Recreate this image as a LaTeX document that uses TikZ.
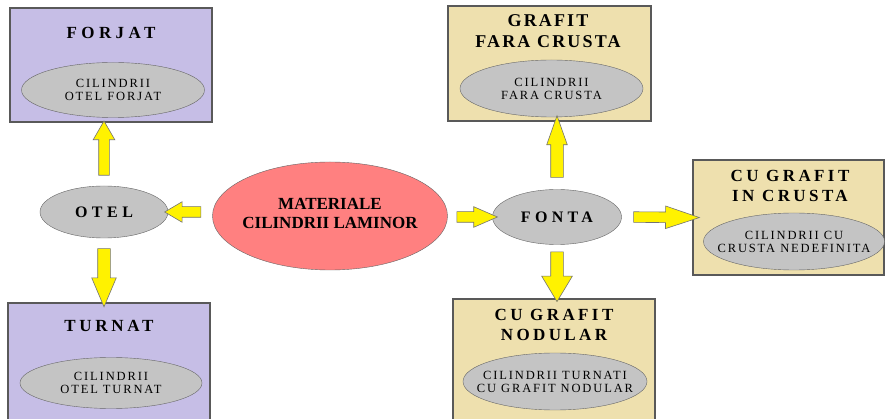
\documentclass[tikz,border=0pt]{standalone}
\usepackage{fontspec}
\setmainfont{Liberation Serif}
\usetikzlibrary{shapes.geometric,shapes.arrows,calc}
\definecolor{lila}{RGB}{198,190,230}
\definecolor{bej}{RGB}{238,224,174}
\definecolor{gri}{RGB}{196,196,196}
\definecolor{roz}{RGB}{255,128,128}
\newcommand\titlufont{\fontsize{17}{20}\selectfont\bfseries\addfontfeature{LetterSpace=20}}
\newcommand\elipsafont{\fontsize{12.5}{13}\selectfont\addfontfeature{LetterSpace=15}}
\begin{document}
\begin{tikzpicture}[x=1pt,y=-1pt,
    cutie/.style={rectangle,draw=black!65,line width=1.2pt,inner sep=0pt},
    elipsa/.style={ellipse,draw=black!60,fill=gri,inner sep=0pt},
    elipsatext/.style={align=center,font=\elipsafont,inner sep=0pt},
    titlu/.style={align=center,font=\titlufont},
    sageata/.style={single arrow,draw=black!55,fill=yellow,line width=0.6pt,
      text height=11pt,text depth=0pt,text width=0pt,inner sep=0pt,
      single arrow head extend=5pt,single arrow tip angle=55,single arrow head indent=0pt},
    spre/.style={to path={let \p1=(\tikztostart),\p2=(\tikztotarget),
      \n1={veclen(\x2-\x1,\y2-\y1)},\n2={atan2(\y2-\y1,\x2-\x1)} in
      node[sageata,#1,minimum height=\n1,rotate=\n2] at ($(\p1)!0.5!(\p2)$) {}}},
    spre/.default={}]
  \clip (0,0) rectangle (886,419);
  \fill[white] (0,0) rectangle (886,419);

  % otel
  \path (111,65) node[cutie,fill=lila,minimum width=202pt,minimum height=114pt] (forjat) {};
  \path (111,33) node[titlu,font=\titlufont\addfontfeature{LetterSpace=26}] (forjatT) {FORJAT};
  \path (113,90) node[elipsa,minimum width=183pt,minimum height=55pt,
    label={[elipsatext]center:CILINDRII\\OTEL FORJAT}] (forjatE) {};

  \path (109,366) node[cutie,fill=lila,minimum width=202pt,minimum height=126pt] (turnat) {};
  \path (109,326) node[titlu,font=\titlufont\addfontfeature{LetterSpace=22}] (turnatT) {TURNAT};
  \path (111,383) node[elipsa,minimum width=182pt,minimum height=51pt,
    label={[elipsatext]center:CILINDRII\\OTEL TURNAT}] (turnatE) {};

  \path (104,212) node[ellipse,draw=black!60,fill=gri,minimum width=128pt,minimum height=52pt,
    font=\fontsize{16}{19}\selectfont\bfseries\addfontfeature{LetterSpace=28}] (otel) {OTEL};

  % centru
  \path (330,216) node[ellipse,draw=black!60,fill=roz,minimum width=235pt,minimum height=108pt,inner sep=0pt,
    label={[align=center,yshift=3pt,font=\fontsize{17}{19}\selectfont\bfseries]center:MATERIALE\\CILINDRII LAMINOR}] (materiale) {};

  % fonta
  \path (557,217) node[ellipse,draw=black!60,fill=gri,minimum width=129pt,minimum height=55pt,
    font=\fontsize{16}{19}\selectfont\bfseries\addfontfeature{LetterSpace=27}] (fonta) {FONTA};

  \path (549.5,63.5) node[cutie,fill=bej,minimum width=203pt,minimum height=115pt] (grafit) {};
  \path (548,31) node[titlu,font=\fontsize{18}{21}\selectfont\bfseries\addfontfeature{LetterSpace=12}] (grafitT) {GRAFIT\\FARA CRUSTA};
  \path (551.5,88.5) node[elipsa,minimum width=183pt,minimum height=57pt,
    label={[elipsatext]center:CILINDRII\\FARA CRUSTA}] (grafitE) {};

  \path (788.5,217.5) node[cutie,fill=bej,minimum width=191pt,minimum height=115pt] (incrusta) {};
  \path (790,186) node[titlu] (incrustaT) {CU GRAFIT\\IN CRUSTA};
  \path (794,241.5) node[elipsa,minimum width=181pt,minimum height=57pt,
    label={[elipsatext]center:CILINDRII CU\\CRUSTA NEDEFINITA}] (incrustaE) {};

  \path (554,364.5) node[cutie,fill=bej,minimum width=202pt,minimum height=131pt] (nodular) {};
  \path (554,325) node[titlu] (nodularT) {CU GRAFIT\\NODULAR};
  \path (555,381.5) node[elipsa,minimum width=184pt,minimum height=57pt,
    label={[elipsatext]center:CILINDRII TURNATI\\CU GRAFIT NODULAR}] (nodularE) {};

  % sageti
  \draw ($(materiale.west |- otel.east)+(-7,0)$) to[spre={text height=10pt,single arrow tip angle=61}] ([xshift=1pt]otel.east);
  \draw ([yshift=6pt]otel.north) to[spre={text height=10pt,single arrow head extend=5.5pt,single arrow tip angle=60}] ([yshift=-3pt]otel.north |- forjat.south);
  \draw ([yshift=-3pt]otel.south) to[spre={text height=12pt,single arrow head extend=6pt,single arrow tip angle=46}] ([yshift=3pt]otel.south |- turnat.north);
  \draw ($(materiale.east |- fonta.west)+(3,0)$) to[spre={text height=10pt,single arrow tip angle=47}] ([xshift=-1pt]fonta.west);
  \draw ([yshift=3pt]fonta.north) to[spre={text height=12pt,single arrow head extend=4pt,single arrow tip angle=39}] ([yshift=-3pt]fonta.north |- grafit.south);
  \draw ([yshift=-2pt]fonta.south) to[spre={text height=12pt,single arrow head extend=9pt,single arrow tip angle=62}] ([yshift=2pt]fonta.south |- nodular.north);
  \draw ([xshift=4pt]fonta.east) to[spre={text height=10pt,single arrow head extend=6pt,single arrow tip angle=37}] ([xshift=-1pt]incrusta.west);
\end{tikzpicture}
\end{document}
